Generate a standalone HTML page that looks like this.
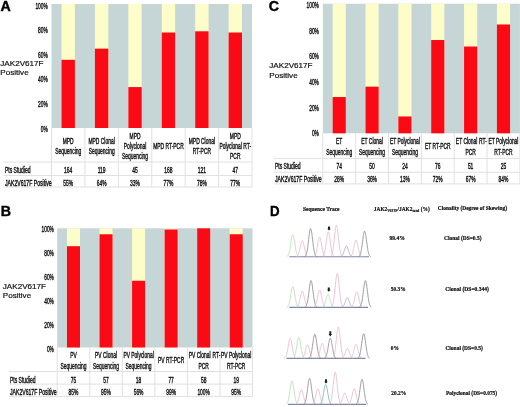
<!DOCTYPE html>
<html><head><meta charset="utf-8"><style>
html,body{margin:0;padding:0;background:#fff;}
body{width:520px;height:407px;overflow:hidden;}
svg{display:block;will-change:transform;}

</style></head><body>
<svg width="520" height="407" viewBox="0 0 520 407">
<rect width="520" height="407" fill="#fff"/>
<rect x="51.50" y="4.00" width="200.50" height="124.00" fill="#c6d5d6"/>
<rect x="61.52" y="4.00" width="13.37" height="124.00" fill="#fdfdc9"/>
<rect x="61.52" y="59.80" width="13.37" height="68.20" fill="#fb0a16"/>
<rect x="94.94" y="4.00" width="13.37" height="124.00" fill="#fdfdc9"/>
<rect x="94.94" y="48.64" width="13.37" height="79.36" fill="#fb0a16"/>
<rect x="128.36" y="4.00" width="13.37" height="124.00" fill="#fdfdc9"/>
<rect x="128.36" y="87.08" width="13.37" height="40.92" fill="#fb0a16"/>
<rect x="161.77" y="4.00" width="13.37" height="124.00" fill="#fdfdc9"/>
<rect x="161.77" y="32.52" width="13.37" height="95.48" fill="#fb0a16"/>
<rect x="195.19" y="4.00" width="13.37" height="124.00" fill="#fdfdc9"/>
<rect x="195.19" y="31.28" width="13.37" height="96.72" fill="#fb0a16"/>
<rect x="228.61" y="4.00" width="13.37" height="124.00" fill="#fdfdc9"/>
<rect x="228.61" y="32.52" width="13.37" height="95.48" fill="#fb0a16"/>
<text x="47.80" y="8.60" font-family="Liberation Sans" font-size="8.2" font-weight="normal" fill="#111" stroke="#111" stroke-width="0.4" text-anchor="end" textLength="12.37" lengthAdjust="spacingAndGlyphs">100%</text>
<text x="47.80" y="33.18" font-family="Liberation Sans" font-size="8.2" font-weight="normal" fill="#111" stroke="#111" stroke-width="0.4" text-anchor="end" textLength="9.68" lengthAdjust="spacingAndGlyphs">80%</text>
<text x="47.80" y="57.76" font-family="Liberation Sans" font-size="8.2" font-weight="normal" fill="#111" stroke="#111" stroke-width="0.4" text-anchor="end" textLength="9.68" lengthAdjust="spacingAndGlyphs">60%</text>
<text x="47.80" y="82.34" font-family="Liberation Sans" font-size="8.2" font-weight="normal" fill="#111" stroke="#111" stroke-width="0.4" text-anchor="end" textLength="9.68" lengthAdjust="spacingAndGlyphs">40%</text>
<text x="47.80" y="106.92" font-family="Liberation Sans" font-size="8.2" font-weight="normal" fill="#111" stroke="#111" stroke-width="0.4" text-anchor="end" textLength="9.68" lengthAdjust="spacingAndGlyphs">20%</text>
<text x="47.80" y="131.50" font-family="Liberation Sans" font-size="8.2" font-weight="normal" fill="#111" stroke="#111" stroke-width="0.4" text-anchor="end" textLength="6.99" lengthAdjust="spacingAndGlyphs">0%</text>
<text x="0.60" y="11.10" font-family="Liberation Sans" font-size="14.2" font-weight="bold" fill="#000" stroke="#000" stroke-width="0.4" text-anchor="start" textLength="10.26" lengthAdjust="spacingAndGlyphs">A</text>
<text x="0.30" y="65.60" font-family="Liberation Sans" font-size="8.1" font-weight="normal" fill="#111" stroke="#111" stroke-width="0.2" text-anchor="start" textLength="43.22" lengthAdjust="spacingAndGlyphs">JAK2V617F</text>
<text x="0.30" y="74.80" font-family="Liberation Sans" font-size="8.1" font-weight="normal" fill="#111" stroke="#111" stroke-width="0.2" text-anchor="start" textLength="28.36" lengthAdjust="spacingAndGlyphs">Positive</text>
<line x1="3.50" y1="162.00" x2="252.50" y2="162.00" stroke="#e0e0e0" stroke-width="1"/>
<line x1="3.50" y1="175.50" x2="252.50" y2="175.50" stroke="#e0e0e0" stroke-width="1"/>
<line x1="3.50" y1="187.00" x2="252.50" y2="187.00" stroke="#e0e0e0" stroke-width="1"/>
<line x1="51.50" y1="128.00" x2="51.50" y2="187.00" stroke="#e0e0e0" stroke-width="1"/>
<line x1="84.92" y1="128.00" x2="84.92" y2="187.00" stroke="#e0e0e0" stroke-width="1"/>
<line x1="118.33" y1="128.00" x2="118.33" y2="187.00" stroke="#e0e0e0" stroke-width="1"/>
<line x1="151.75" y1="128.00" x2="151.75" y2="187.00" stroke="#e0e0e0" stroke-width="1"/>
<line x1="185.17" y1="128.00" x2="185.17" y2="187.00" stroke="#e0e0e0" stroke-width="1"/>
<line x1="218.58" y1="128.00" x2="218.58" y2="187.00" stroke="#e0e0e0" stroke-width="1"/>
<line x1="252.00" y1="128.00" x2="252.00" y2="187.00" stroke="#e0e0e0" stroke-width="1"/>
<text x="68.21" y="143.70" font-family="Liberation Sans" font-size="8.2" font-weight="normal" fill="#111" stroke="#111" stroke-width="0.4" text-anchor="middle" textLength="10.93" lengthAdjust="spacingAndGlyphs">MPD</text>
<text x="68.21" y="154.30" font-family="Liberation Sans" font-size="8.2" font-weight="normal" fill="#111" stroke="#111" stroke-width="0.4" text-anchor="middle" textLength="25.99" lengthAdjust="spacingAndGlyphs">Sequencing</text>
<text x="101.62" y="143.70" font-family="Liberation Sans" font-size="8.2" font-weight="normal" fill="#111" stroke="#111" stroke-width="0.4" text-anchor="middle" textLength="26.25" lengthAdjust="spacingAndGlyphs">MPD Clonal</text>
<text x="101.62" y="154.30" font-family="Liberation Sans" font-size="8.2" font-weight="normal" fill="#111" stroke="#111" stroke-width="0.4" text-anchor="middle" textLength="25.99" lengthAdjust="spacingAndGlyphs">Sequencing</text>
<text x="135.04" y="138.80" font-family="Liberation Sans" font-size="8.2" font-weight="normal" fill="#111" stroke="#111" stroke-width="0.4" text-anchor="middle" textLength="10.93" lengthAdjust="spacingAndGlyphs">MPD</text>
<text x="135.04" y="149.00" font-family="Liberation Sans" font-size="8.2" font-weight="normal" fill="#111" stroke="#111" stroke-width="0.4" text-anchor="middle" textLength="22.43" lengthAdjust="spacingAndGlyphs">Polyclonal</text>
<text x="135.04" y="159.20" font-family="Liberation Sans" font-size="8.2" font-weight="normal" fill="#111" stroke="#111" stroke-width="0.4" text-anchor="middle" textLength="25.99" lengthAdjust="spacingAndGlyphs">Sequencing</text>
<text x="168.46" y="149.00" font-family="Liberation Sans" font-size="8.2" font-weight="normal" fill="#111" stroke="#111" stroke-width="0.4" text-anchor="middle" textLength="30.52" lengthAdjust="spacingAndGlyphs">MPD RT-PCR</text>
<text x="201.88" y="143.70" font-family="Liberation Sans" font-size="8.2" font-weight="normal" fill="#111" stroke="#111" stroke-width="0.4" text-anchor="middle" textLength="26.25" lengthAdjust="spacingAndGlyphs">MPD Clonal</text>
<text x="201.88" y="154.30" font-family="Liberation Sans" font-size="8.2" font-weight="normal" fill="#111" stroke="#111" stroke-width="0.4" text-anchor="middle" textLength="18.22" lengthAdjust="spacingAndGlyphs">RT-PCR</text>
<text x="235.29" y="138.80" font-family="Liberation Sans" font-size="8.2" font-weight="normal" fill="#111" stroke="#111" stroke-width="0.4" text-anchor="middle" textLength="10.93" lengthAdjust="spacingAndGlyphs">MPD</text>
<text x="235.29" y="149.00" font-family="Liberation Sans" font-size="8.2" font-weight="normal" fill="#111" stroke="#111" stroke-width="0.4" text-anchor="middle" textLength="31.63" lengthAdjust="spacingAndGlyphs">Polyclonal RT-</text>
<text x="235.29" y="159.20" font-family="Liberation Sans" font-size="8.2" font-weight="normal" fill="#111" stroke="#111" stroke-width="0.4" text-anchor="middle" textLength="10.39" lengthAdjust="spacingAndGlyphs">PCR</text>
<text x="5.00" y="172.60" font-family="Liberation Sans" font-size="8.2" font-weight="normal" fill="#111" stroke="#111" stroke-width="0.4" text-anchor="start" textLength="25.58" lengthAdjust="spacingAndGlyphs">Pts Studied</text>
<text x="5.00" y="185.80" font-family="Liberation Sans" font-size="8.2" font-weight="normal" fill="#111" stroke="#111" stroke-width="0.4" text-anchor="start" textLength="46.72" lengthAdjust="spacingAndGlyphs">JAK2V617F Positive</text>
<text x="68.21" y="172.60" font-family="Liberation Sans" font-size="8.2" font-weight="normal" fill="#111" stroke="#111" stroke-width="0.4" text-anchor="middle" textLength="8.21" lengthAdjust="spacingAndGlyphs">164</text>
<text x="68.21" y="185.80" font-family="Liberation Sans" font-size="8.2" font-weight="normal" fill="#111" stroke="#111" stroke-width="0.4" text-anchor="middle" textLength="9.85" lengthAdjust="spacingAndGlyphs">55%</text>
<text x="101.62" y="172.60" font-family="Liberation Sans" font-size="8.2" font-weight="normal" fill="#111" stroke="#111" stroke-width="0.4" text-anchor="middle" textLength="7.84" lengthAdjust="spacingAndGlyphs">119</text>
<text x="101.62" y="185.80" font-family="Liberation Sans" font-size="8.2" font-weight="normal" fill="#111" stroke="#111" stroke-width="0.4" text-anchor="middle" textLength="9.85" lengthAdjust="spacingAndGlyphs">64%</text>
<text x="135.04" y="172.60" font-family="Liberation Sans" font-size="8.2" font-weight="normal" fill="#111" stroke="#111" stroke-width="0.4" text-anchor="middle" textLength="5.47" lengthAdjust="spacingAndGlyphs">45</text>
<text x="135.04" y="185.80" font-family="Liberation Sans" font-size="8.2" font-weight="normal" fill="#111" stroke="#111" stroke-width="0.4" text-anchor="middle" textLength="9.85" lengthAdjust="spacingAndGlyphs">33%</text>
<text x="168.46" y="172.60" font-family="Liberation Sans" font-size="8.2" font-weight="normal" fill="#111" stroke="#111" stroke-width="0.4" text-anchor="middle" textLength="8.21" lengthAdjust="spacingAndGlyphs">168</text>
<text x="168.46" y="185.80" font-family="Liberation Sans" font-size="8.2" font-weight="normal" fill="#111" stroke="#111" stroke-width="0.4" text-anchor="middle" textLength="9.85" lengthAdjust="spacingAndGlyphs">77%</text>
<text x="201.88" y="172.60" font-family="Liberation Sans" font-size="8.2" font-weight="normal" fill="#111" stroke="#111" stroke-width="0.4" text-anchor="middle" textLength="8.21" lengthAdjust="spacingAndGlyphs">121</text>
<text x="201.88" y="185.80" font-family="Liberation Sans" font-size="8.2" font-weight="normal" fill="#111" stroke="#111" stroke-width="0.4" text-anchor="middle" textLength="9.85" lengthAdjust="spacingAndGlyphs">78%</text>
<text x="235.29" y="172.60" font-family="Liberation Sans" font-size="8.2" font-weight="normal" fill="#111" stroke="#111" stroke-width="0.4" text-anchor="middle" textLength="5.47" lengthAdjust="spacingAndGlyphs">47</text>
<text x="235.29" y="185.80" font-family="Liberation Sans" font-size="8.2" font-weight="normal" fill="#111" stroke="#111" stroke-width="0.4" text-anchor="middle" textLength="9.85" lengthAdjust="spacingAndGlyphs">77%</text>
<rect x="322.80" y="3.75" width="197.10" height="129.55" fill="#c6d5d6"/>
<rect x="332.66" y="3.75" width="13.14" height="129.55" fill="#fdfdc9"/>
<rect x="332.66" y="97.03" width="13.14" height="36.27" fill="#fb0a16"/>
<rect x="365.50" y="3.75" width="13.14" height="129.55" fill="#fdfdc9"/>
<rect x="365.50" y="86.66" width="13.14" height="46.64" fill="#fb0a16"/>
<rect x="398.36" y="3.75" width="13.14" height="129.55" fill="#fdfdc9"/>
<rect x="398.36" y="116.46" width="13.14" height="16.84" fill="#fb0a16"/>
<rect x="431.20" y="3.75" width="13.14" height="129.55" fill="#fdfdc9"/>
<rect x="431.20" y="40.02" width="13.14" height="93.28" fill="#fb0a16"/>
<rect x="464.06" y="3.75" width="13.14" height="129.55" fill="#fdfdc9"/>
<rect x="464.06" y="46.50" width="13.14" height="86.80" fill="#fb0a16"/>
<rect x="496.90" y="3.75" width="13.14" height="129.55" fill="#fdfdc9"/>
<rect x="496.90" y="24.48" width="13.14" height="108.82" fill="#fb0a16"/>
<text x="318.90" y="7.95" font-family="Liberation Sans" font-size="8.2" font-weight="normal" fill="#111" stroke="#111" stroke-width="0.4" text-anchor="end" textLength="12.37" lengthAdjust="spacingAndGlyphs">100%</text>
<text x="318.90" y="33.64" font-family="Liberation Sans" font-size="8.2" font-weight="normal" fill="#111" stroke="#111" stroke-width="0.4" text-anchor="end" textLength="9.68" lengthAdjust="spacingAndGlyphs">80%</text>
<text x="318.90" y="59.33" font-family="Liberation Sans" font-size="8.2" font-weight="normal" fill="#111" stroke="#111" stroke-width="0.4" text-anchor="end" textLength="9.68" lengthAdjust="spacingAndGlyphs">60%</text>
<text x="318.90" y="85.02" font-family="Liberation Sans" font-size="8.2" font-weight="normal" fill="#111" stroke="#111" stroke-width="0.4" text-anchor="end" textLength="9.68" lengthAdjust="spacingAndGlyphs">40%</text>
<text x="318.90" y="110.71" font-family="Liberation Sans" font-size="8.2" font-weight="normal" fill="#111" stroke="#111" stroke-width="0.4" text-anchor="end" textLength="9.68" lengthAdjust="spacingAndGlyphs">20%</text>
<text x="318.90" y="136.40" font-family="Liberation Sans" font-size="8.2" font-weight="normal" fill="#111" stroke="#111" stroke-width="0.4" text-anchor="end" textLength="6.99" lengthAdjust="spacingAndGlyphs">0%</text>
<text x="268.80" y="11.30" font-family="Liberation Sans" font-size="14.2" font-weight="bold" fill="#000" stroke="#000" stroke-width="0.4" text-anchor="start" textLength="10.26" lengthAdjust="spacingAndGlyphs">C</text>
<text x="269.30" y="68.00" font-family="Liberation Sans" font-size="8.1" font-weight="normal" fill="#111" stroke="#111" stroke-width="0.2" text-anchor="start" textLength="43.22" lengthAdjust="spacingAndGlyphs">JAK2V617F</text>
<text x="269.30" y="77.50" font-family="Liberation Sans" font-size="8.1" font-weight="normal" fill="#111" stroke="#111" stroke-width="0.2" text-anchor="start" textLength="28.36" lengthAdjust="spacingAndGlyphs">Positive</text>
<line x1="273.70" y1="158.40" x2="520.40" y2="158.40" stroke="#e0e0e0" stroke-width="1"/>
<line x1="273.70" y1="172.20" x2="520.40" y2="172.20" stroke="#e0e0e0" stroke-width="1"/>
<line x1="273.70" y1="183.90" x2="520.40" y2="183.90" stroke="#e0e0e0" stroke-width="1"/>
<line x1="322.80" y1="133.30" x2="322.80" y2="183.90" stroke="#e0e0e0" stroke-width="1"/>
<line x1="355.65" y1="133.30" x2="355.65" y2="183.90" stroke="#e0e0e0" stroke-width="1"/>
<line x1="388.50" y1="133.30" x2="388.50" y2="183.90" stroke="#e0e0e0" stroke-width="1"/>
<line x1="421.35" y1="133.30" x2="421.35" y2="183.90" stroke="#e0e0e0" stroke-width="1"/>
<line x1="454.20" y1="133.30" x2="454.20" y2="183.90" stroke="#e0e0e0" stroke-width="1"/>
<line x1="487.05" y1="133.30" x2="487.05" y2="183.90" stroke="#e0e0e0" stroke-width="1"/>
<line x1="519.90" y1="133.30" x2="519.90" y2="183.90" stroke="#e0e0e0" stroke-width="1"/>
<text x="339.23" y="143.95" font-family="Liberation Sans" font-size="8.2" font-weight="normal" fill="#111" stroke="#111" stroke-width="0.4" text-anchor="middle" textLength="6.29" lengthAdjust="spacingAndGlyphs">ET</text>
<text x="339.23" y="154.55" font-family="Liberation Sans" font-size="8.2" font-weight="normal" fill="#111" stroke="#111" stroke-width="0.4" text-anchor="middle" textLength="25.99" lengthAdjust="spacingAndGlyphs">Sequencing</text>
<text x="372.07" y="143.95" font-family="Liberation Sans" font-size="8.2" font-weight="normal" fill="#111" stroke="#111" stroke-width="0.4" text-anchor="middle" textLength="21.51" lengthAdjust="spacingAndGlyphs">ET Clonal</text>
<text x="372.07" y="154.55" font-family="Liberation Sans" font-size="8.2" font-weight="normal" fill="#111" stroke="#111" stroke-width="0.4" text-anchor="middle" textLength="25.99" lengthAdjust="spacingAndGlyphs">Sequencing</text>
<text x="404.93" y="143.95" font-family="Liberation Sans" font-size="8.2" font-weight="normal" fill="#111" stroke="#111" stroke-width="0.4" text-anchor="middle" textLength="29.99" lengthAdjust="spacingAndGlyphs">ET Polyclonal</text>
<text x="404.93" y="154.55" font-family="Liberation Sans" font-size="8.2" font-weight="normal" fill="#111" stroke="#111" stroke-width="0.4" text-anchor="middle" textLength="25.99" lengthAdjust="spacingAndGlyphs">Sequencing</text>
<text x="437.77" y="149.25" font-family="Liberation Sans" font-size="8.2" font-weight="normal" fill="#111" stroke="#111" stroke-width="0.4" text-anchor="middle" textLength="25.79" lengthAdjust="spacingAndGlyphs">ET RT-PCR</text>
<text x="466.62" y="143.95" font-family="Liberation Sans" font-size="8.2" font-weight="normal" fill="#111" stroke="#111" stroke-width="0.4" text-anchor="middle" textLength="21.51" lengthAdjust="spacingAndGlyphs">ET Clonal</text>
<text x="470.62" y="154.55" font-family="Liberation Sans" font-size="8.2" font-weight="normal" fill="#111" stroke="#111" stroke-width="0.4" text-anchor="middle" textLength="10.39" lengthAdjust="spacingAndGlyphs">PCR</text>
<text x="503.47" y="143.95" font-family="Liberation Sans" font-size="8.2" font-weight="normal" fill="#111" stroke="#111" stroke-width="0.4" text-anchor="middle" textLength="29.99" lengthAdjust="spacingAndGlyphs">ET Polyclonal</text>
<text x="503.47" y="154.55" font-family="Liberation Sans" font-size="8.2" font-weight="normal" fill="#111" stroke="#111" stroke-width="0.4" text-anchor="middle" textLength="18.22" lengthAdjust="spacingAndGlyphs">RT-PCR</text>
<text x="275.00" y="169.25" font-family="Liberation Sans" font-size="8.2" font-weight="normal" fill="#111" stroke="#111" stroke-width="0.4" text-anchor="start" textLength="25.58" lengthAdjust="spacingAndGlyphs">Pts Studied</text>
<text x="275.00" y="182.40" font-family="Liberation Sans" font-size="8.2" font-weight="normal" fill="#111" stroke="#111" stroke-width="0.4" text-anchor="start" textLength="46.72" lengthAdjust="spacingAndGlyphs">JAK2V617F Positive</text>
<text x="339.23" y="169.25" font-family="Liberation Sans" font-size="8.2" font-weight="normal" fill="#111" stroke="#111" stroke-width="0.4" text-anchor="middle" textLength="5.47" lengthAdjust="spacingAndGlyphs">74</text>
<text x="339.23" y="182.40" font-family="Liberation Sans" font-size="8.2" font-weight="normal" fill="#111" stroke="#111" stroke-width="0.4" text-anchor="middle" textLength="9.85" lengthAdjust="spacingAndGlyphs">28%</text>
<text x="372.07" y="169.25" font-family="Liberation Sans" font-size="8.2" font-weight="normal" fill="#111" stroke="#111" stroke-width="0.4" text-anchor="middle" textLength="5.47" lengthAdjust="spacingAndGlyphs">50</text>
<text x="372.07" y="182.40" font-family="Liberation Sans" font-size="8.2" font-weight="normal" fill="#111" stroke="#111" stroke-width="0.4" text-anchor="middle" textLength="9.85" lengthAdjust="spacingAndGlyphs">36%</text>
<text x="404.93" y="169.25" font-family="Liberation Sans" font-size="8.2" font-weight="normal" fill="#111" stroke="#111" stroke-width="0.4" text-anchor="middle" textLength="5.47" lengthAdjust="spacingAndGlyphs">24</text>
<text x="404.93" y="182.40" font-family="Liberation Sans" font-size="8.2" font-weight="normal" fill="#111" stroke="#111" stroke-width="0.4" text-anchor="middle" textLength="9.85" lengthAdjust="spacingAndGlyphs">13%</text>
<text x="437.77" y="169.25" font-family="Liberation Sans" font-size="8.2" font-weight="normal" fill="#111" stroke="#111" stroke-width="0.4" text-anchor="middle" textLength="5.47" lengthAdjust="spacingAndGlyphs">76</text>
<text x="437.77" y="182.40" font-family="Liberation Sans" font-size="8.2" font-weight="normal" fill="#111" stroke="#111" stroke-width="0.4" text-anchor="middle" textLength="9.85" lengthAdjust="spacingAndGlyphs">72%</text>
<text x="470.62" y="169.25" font-family="Liberation Sans" font-size="8.2" font-weight="normal" fill="#111" stroke="#111" stroke-width="0.4" text-anchor="middle" textLength="5.47" lengthAdjust="spacingAndGlyphs">51</text>
<text x="470.62" y="182.40" font-family="Liberation Sans" font-size="8.2" font-weight="normal" fill="#111" stroke="#111" stroke-width="0.4" text-anchor="middle" textLength="9.85" lengthAdjust="spacingAndGlyphs">67%</text>
<text x="503.47" y="169.25" font-family="Liberation Sans" font-size="8.2" font-weight="normal" fill="#111" stroke="#111" stroke-width="0.4" text-anchor="middle" textLength="5.47" lengthAdjust="spacingAndGlyphs">25</text>
<text x="503.47" y="182.40" font-family="Liberation Sans" font-size="8.2" font-weight="normal" fill="#111" stroke="#111" stroke-width="0.4" text-anchor="middle" textLength="9.85" lengthAdjust="spacingAndGlyphs">84%</text>
<rect x="57.20" y="228.30" width="195.30" height="119.20" fill="#c6d5d6"/>
<rect x="66.97" y="228.30" width="13.02" height="119.20" fill="#fdfdc9"/>
<rect x="66.97" y="246.18" width="13.02" height="101.32" fill="#fb0a16"/>
<rect x="99.52" y="228.30" width="13.02" height="119.20" fill="#fdfdc9"/>
<rect x="99.52" y="234.26" width="13.02" height="113.24" fill="#fb0a16"/>
<rect x="132.07" y="228.30" width="13.02" height="119.20" fill="#fdfdc9"/>
<rect x="132.07" y="280.75" width="13.02" height="66.75" fill="#fb0a16"/>
<rect x="164.62" y="228.30" width="13.02" height="119.20" fill="#fdfdc9"/>
<rect x="164.62" y="229.49" width="13.02" height="118.01" fill="#fb0a16"/>
<rect x="197.17" y="228.30" width="13.02" height="119.20" fill="#fdfdc9"/>
<rect x="197.17" y="228.30" width="13.02" height="119.20" fill="#fb0a16"/>
<rect x="229.72" y="228.30" width="13.02" height="119.20" fill="#fdfdc9"/>
<rect x="229.72" y="234.26" width="13.02" height="113.24" fill="#fb0a16"/>
<text x="53.90" y="232.30" font-family="Liberation Sans" font-size="8.2" font-weight="normal" fill="#111" stroke="#111" stroke-width="0.4" text-anchor="end" textLength="12.37" lengthAdjust="spacingAndGlyphs">100%</text>
<text x="53.90" y="256.24" font-family="Liberation Sans" font-size="8.2" font-weight="normal" fill="#111" stroke="#111" stroke-width="0.4" text-anchor="end" textLength="9.68" lengthAdjust="spacingAndGlyphs">80%</text>
<text x="53.90" y="280.18" font-family="Liberation Sans" font-size="8.2" font-weight="normal" fill="#111" stroke="#111" stroke-width="0.4" text-anchor="end" textLength="9.68" lengthAdjust="spacingAndGlyphs">60%</text>
<text x="53.90" y="304.12" font-family="Liberation Sans" font-size="8.2" font-weight="normal" fill="#111" stroke="#111" stroke-width="0.4" text-anchor="end" textLength="9.68" lengthAdjust="spacingAndGlyphs">40%</text>
<text x="53.90" y="328.06" font-family="Liberation Sans" font-size="8.2" font-weight="normal" fill="#111" stroke="#111" stroke-width="0.4" text-anchor="end" textLength="9.68" lengthAdjust="spacingAndGlyphs">20%</text>
<text x="53.90" y="352.00" font-family="Liberation Sans" font-size="8.2" font-weight="normal" fill="#111" stroke="#111" stroke-width="0.4" text-anchor="end" textLength="6.99" lengthAdjust="spacingAndGlyphs">0%</text>
<text x="0.80" y="216.30" font-family="Liberation Sans" font-size="14.2" font-weight="bold" fill="#000" stroke="#000" stroke-width="0.4" text-anchor="start" textLength="10.26" lengthAdjust="spacingAndGlyphs">B</text>
<text x="2.80" y="288.60" font-family="Liberation Sans" font-size="8.1" font-weight="normal" fill="#111" stroke="#111" stroke-width="0.2" text-anchor="start" textLength="43.22" lengthAdjust="spacingAndGlyphs">JAK2V617F</text>
<text x="2.80" y="297.80" font-family="Liberation Sans" font-size="8.1" font-weight="normal" fill="#111" stroke="#111" stroke-width="0.2" text-anchor="start" textLength="28.36" lengthAdjust="spacingAndGlyphs">Positive</text>
<line x1="9.00" y1="371.50" x2="253.00" y2="371.50" stroke="#e0e0e0" stroke-width="1"/>
<line x1="9.00" y1="384.10" x2="253.00" y2="384.10" stroke="#e0e0e0" stroke-width="1"/>
<line x1="9.00" y1="396.60" x2="253.00" y2="396.60" stroke="#e0e0e0" stroke-width="1"/>
<line x1="57.20" y1="347.50" x2="57.20" y2="396.60" stroke="#e0e0e0" stroke-width="1"/>
<line x1="89.75" y1="347.50" x2="89.75" y2="396.60" stroke="#e0e0e0" stroke-width="1"/>
<line x1="122.30" y1="347.50" x2="122.30" y2="396.60" stroke="#e0e0e0" stroke-width="1"/>
<line x1="154.85" y1="347.50" x2="154.85" y2="396.60" stroke="#e0e0e0" stroke-width="1"/>
<line x1="187.40" y1="347.50" x2="187.40" y2="396.60" stroke="#e0e0e0" stroke-width="1"/>
<line x1="219.95" y1="347.50" x2="219.95" y2="396.60" stroke="#e0e0e0" stroke-width="1"/>
<line x1="252.50" y1="347.50" x2="252.50" y2="396.60" stroke="#e0e0e0" stroke-width="1"/>
<text x="73.48" y="358.05" font-family="Liberation Sans" font-size="8.2" font-weight="normal" fill="#111" stroke="#111" stroke-width="0.4" text-anchor="middle" textLength="6.56" lengthAdjust="spacingAndGlyphs">PV</text>
<text x="73.48" y="368.65" font-family="Liberation Sans" font-size="8.2" font-weight="normal" fill="#111" stroke="#111" stroke-width="0.4" text-anchor="middle" textLength="25.99" lengthAdjust="spacingAndGlyphs">Sequencing</text>
<text x="106.03" y="358.05" font-family="Liberation Sans" font-size="8.2" font-weight="normal" fill="#111" stroke="#111" stroke-width="0.4" text-anchor="middle" textLength="21.88" lengthAdjust="spacingAndGlyphs">PV Clonal</text>
<text x="106.03" y="368.65" font-family="Liberation Sans" font-size="8.2" font-weight="normal" fill="#111" stroke="#111" stroke-width="0.4" text-anchor="middle" textLength="25.99" lengthAdjust="spacingAndGlyphs">Sequencing</text>
<text x="138.58" y="358.05" font-family="Liberation Sans" font-size="8.2" font-weight="normal" fill="#111" stroke="#111" stroke-width="0.4" text-anchor="middle" textLength="30.36" lengthAdjust="spacingAndGlyphs">PV Polyclonal</text>
<text x="138.58" y="368.65" font-family="Liberation Sans" font-size="8.2" font-weight="normal" fill="#111" stroke="#111" stroke-width="0.4" text-anchor="middle" textLength="25.99" lengthAdjust="spacingAndGlyphs">Sequencing</text>
<text x="171.12" y="363.35" font-family="Liberation Sans" font-size="8.2" font-weight="normal" fill="#111" stroke="#111" stroke-width="0.4" text-anchor="middle" textLength="26.15" lengthAdjust="spacingAndGlyphs">PV RT-PCR</text>
<text x="199.68" y="358.05" font-family="Liberation Sans" font-size="8.2" font-weight="normal" fill="#111" stroke="#111" stroke-width="0.4" text-anchor="middle" textLength="21.88" lengthAdjust="spacingAndGlyphs">PV Clonal</text>
<text x="203.68" y="368.65" font-family="Liberation Sans" font-size="8.2" font-weight="normal" fill="#111" stroke="#111" stroke-width="0.4" text-anchor="middle" textLength="10.39" lengthAdjust="spacingAndGlyphs">PCR</text>
<text x="236.23" y="358.05" font-family="Liberation Sans" font-size="8.2" font-weight="normal" fill="#111" stroke="#111" stroke-width="0.4" text-anchor="middle" textLength="30.36" lengthAdjust="spacingAndGlyphs">PV Polyclonal</text>
<text x="236.23" y="368.65" font-family="Liberation Sans" font-size="8.2" font-weight="normal" fill="#111" stroke="#111" stroke-width="0.4" text-anchor="middle" textLength="18.22" lengthAdjust="spacingAndGlyphs">RT-PCR</text>
<text x="10.00" y="382.50" font-family="Liberation Sans" font-size="8.2" font-weight="normal" fill="#111" stroke="#111" stroke-width="0.4" text-anchor="start" textLength="25.58" lengthAdjust="spacingAndGlyphs">Pts Studied</text>
<text x="10.00" y="395.10" font-family="Liberation Sans" font-size="8.2" font-weight="normal" fill="#111" stroke="#111" stroke-width="0.4" text-anchor="start" textLength="46.72" lengthAdjust="spacingAndGlyphs">JAK2V617F Positive</text>
<text x="73.48" y="382.50" font-family="Liberation Sans" font-size="8.2" font-weight="normal" fill="#111" stroke="#111" stroke-width="0.4" text-anchor="middle" textLength="5.47" lengthAdjust="spacingAndGlyphs">75</text>
<text x="73.48" y="395.10" font-family="Liberation Sans" font-size="8.2" font-weight="normal" fill="#111" stroke="#111" stroke-width="0.4" text-anchor="middle" textLength="9.85" lengthAdjust="spacingAndGlyphs">85%</text>
<text x="106.03" y="382.50" font-family="Liberation Sans" font-size="8.2" font-weight="normal" fill="#111" stroke="#111" stroke-width="0.4" text-anchor="middle" textLength="5.47" lengthAdjust="spacingAndGlyphs">57</text>
<text x="106.03" y="395.10" font-family="Liberation Sans" font-size="8.2" font-weight="normal" fill="#111" stroke="#111" stroke-width="0.4" text-anchor="middle" textLength="9.85" lengthAdjust="spacingAndGlyphs">95%</text>
<text x="138.58" y="382.50" font-family="Liberation Sans" font-size="8.2" font-weight="normal" fill="#111" stroke="#111" stroke-width="0.4" text-anchor="middle" textLength="5.47" lengthAdjust="spacingAndGlyphs">18</text>
<text x="138.58" y="395.10" font-family="Liberation Sans" font-size="8.2" font-weight="normal" fill="#111" stroke="#111" stroke-width="0.4" text-anchor="middle" textLength="9.85" lengthAdjust="spacingAndGlyphs">56%</text>
<text x="171.12" y="382.50" font-family="Liberation Sans" font-size="8.2" font-weight="normal" fill="#111" stroke="#111" stroke-width="0.4" text-anchor="middle" textLength="5.47" lengthAdjust="spacingAndGlyphs">77</text>
<text x="171.12" y="395.10" font-family="Liberation Sans" font-size="8.2" font-weight="normal" fill="#111" stroke="#111" stroke-width="0.4" text-anchor="middle" textLength="9.85" lengthAdjust="spacingAndGlyphs">99%</text>
<text x="203.68" y="382.50" font-family="Liberation Sans" font-size="8.2" font-weight="normal" fill="#111" stroke="#111" stroke-width="0.4" text-anchor="middle" textLength="5.47" lengthAdjust="spacingAndGlyphs">58</text>
<text x="203.68" y="395.10" font-family="Liberation Sans" font-size="8.2" font-weight="normal" fill="#111" stroke="#111" stroke-width="0.4" text-anchor="middle" textLength="12.58" lengthAdjust="spacingAndGlyphs">100%</text>
<text x="236.23" y="382.50" font-family="Liberation Sans" font-size="8.2" font-weight="normal" fill="#111" stroke="#111" stroke-width="0.4" text-anchor="middle" textLength="5.47" lengthAdjust="spacingAndGlyphs">19</text>
<text x="236.23" y="395.10" font-family="Liberation Sans" font-size="8.2" font-weight="normal" fill="#111" stroke="#111" stroke-width="0.4" text-anchor="middle" textLength="9.85" lengthAdjust="spacingAndGlyphs">95%</text>
<text x="483.00" y="143.95" font-family="Liberation Sans" font-size="8.2" font-weight="normal" fill="#111" stroke="#111" stroke-width="0.4" text-anchor="middle" textLength="7.84" lengthAdjust="spacingAndGlyphs">RT-</text>
<text x="216.50" y="358.05" font-family="Liberation Sans" font-size="8.2" font-weight="normal" fill="#111" stroke="#111" stroke-width="0.4" text-anchor="middle" textLength="7.84" lengthAdjust="spacingAndGlyphs">RT-</text>
<text x="270.00" y="215.60" font-family="Liberation Sans" font-size="14" font-weight="bold" fill="#000" stroke="#000" stroke-width="0.4" text-anchor="start" textLength="9.60" lengthAdjust="spacingAndGlyphs">D</text>
<text x="303.00" y="210.68" font-family="Liberation Serif" font-weight="bold" font-size="6" fill="#111" stroke="#111" stroke-width="0.2" textLength="36.50" lengthAdjust="spacingAndGlyphs">Sequence Trace</text>
<text x="373.8" y="210.6" font-family="Liberation Serif" font-weight="bold" font-size="6" fill="#111" stroke="#111" stroke-width="0.2" textLength="55.9" lengthAdjust="spacingAndGlyphs">JAK2<tspan font-size="4" dy="1">V617F</tspan><tspan dy="-1">/JAK2</tspan><tspan font-size="4" dy="1">total</tspan><tspan dy="-1"> (%)</tspan></text>
<text x="437.80" y="210.28" font-family="Liberation Serif" font-weight="bold" font-size="6" fill="#111" stroke="#111" stroke-width="0.2" textLength="69.20" lengthAdjust="spacingAndGlyphs">Clonality (Degree of Skewing)</text>
<text x="389.40" y="239.75" font-family="Liberation Serif" font-weight="bold" font-size="5.6" fill="#111" stroke="#111" stroke-width="0.2" textLength="15.40" lengthAdjust="spacingAndGlyphs">99.4%</text>
<text x="444.00" y="239.75" font-family="Liberation Serif" font-weight="bold" font-size="5.6" fill="#111" stroke="#111" stroke-width="0.2" textLength="37.50" lengthAdjust="spacingAndGlyphs">Clonal (DS=0.5)</text>
<text x="390.80" y="291.45" font-family="Liberation Serif" font-weight="bold" font-size="5.6" fill="#111" stroke="#111" stroke-width="0.2" textLength="14.80" lengthAdjust="spacingAndGlyphs">50.3%</text>
<text x="445.20" y="291.45" font-family="Liberation Serif" font-weight="bold" font-size="5.6" fill="#111" stroke="#111" stroke-width="0.2" textLength="43.80" lengthAdjust="spacingAndGlyphs">Clonal (DS=0.344)</text>
<text x="390.80" y="350.15" font-family="Liberation Serif" font-weight="bold" font-size="5.6" fill="#111" stroke="#111" stroke-width="0.2" textLength="8.00" lengthAdjust="spacingAndGlyphs">0%</text>
<text x="445.40" y="350.15" font-family="Liberation Serif" font-weight="bold" font-size="5.6" fill="#111" stroke="#111" stroke-width="0.2" textLength="37.50" lengthAdjust="spacingAndGlyphs">Clonal (DS=0.5)</text>
<text x="391.30" y="395.05" font-family="Liberation Serif" font-weight="bold" font-size="5.6" fill="#111" stroke="#111" stroke-width="0.2" textLength="14.80" lengthAdjust="spacingAndGlyphs">20.2%</text>
<text x="446.00" y="395.05" font-family="Liberation Serif" font-weight="bold" font-size="5.6" fill="#111" stroke="#111" stroke-width="0.2" textLength="51.10" lengthAdjust="spacingAndGlyphs">Polyclonal (DS=0.075)</text>
<line x1="289.3" y1="256.8" x2="369" y2="256.8" stroke="#7a88a0" stroke-width="1.1"/>
<polyline points="286.80,256.55 287.00,256.47 287.20,256.36 287.40,256.22 287.60,256.05 287.80,255.83 288.00,255.56 288.20,255.23 288.40,254.83 288.60,254.36 288.80,253.81 289.00,253.17 289.20,252.43 289.40,251.59 289.60,250.66 289.80,249.63 290.00,248.51 290.20,247.31 290.40,246.04 290.60,244.73 290.80,243.40 291.00,242.06 291.20,240.75 291.40,239.50 291.60,238.34 291.80,237.30 292.00,236.40 292.20,235.67 292.40,235.14 292.60,234.81 292.80,234.70 293.00,234.81 293.20,235.14 293.40,235.67 293.60,236.40 293.80,237.30 294.00,238.34 294.20,239.50 294.40,240.75 294.60,242.06 294.80,243.40 295.00,244.73 295.20,246.04 295.40,247.31 295.60,248.51 295.80,249.63 296.00,250.66 296.20,251.59 296.40,252.43 296.60,253.17 296.80,253.81 297.00,254.36 297.20,254.83 297.40,255.23 297.60,255.56 297.80,255.83 298.00,256.05 298.20,256.22 298.40,256.36 298.60,256.47 298.80,256.55" fill="none" stroke="#b2dab2" stroke-width="0.8"/>
<polyline points="296.30,256.62 296.50,256.56 296.70,256.48 296.90,256.38 297.10,256.26 297.30,256.10 297.50,255.90 297.70,255.66 297.90,255.38 298.10,255.04 298.30,254.63 298.50,254.17 298.70,253.63 298.90,253.03 299.10,252.35 299.30,251.61 299.50,250.80 299.70,249.93 299.90,249.01 300.10,248.06 300.30,247.10 300.50,246.13 300.70,245.18 300.90,244.28 301.10,243.44 301.30,242.68 301.50,242.03 301.70,241.50 301.90,241.12 302.10,240.88 302.30,240.80 302.50,240.88 302.70,241.12 302.90,241.50 303.10,242.03 303.30,242.68 303.50,243.44 303.70,244.28 303.90,245.18 304.10,246.13 304.30,247.10 304.50,248.06 304.70,249.01 304.90,249.93 305.10,250.80 305.30,251.61 305.50,252.35 305.70,253.03 305.90,253.63 306.10,254.17 306.30,254.63 306.50,255.04 306.70,255.38 306.90,255.66 307.10,255.90 307.30,256.10 307.50,256.26 307.70,256.38 307.90,256.48 308.10,256.56 308.30,256.62" fill="none" stroke="#eab2cb" stroke-width="0.8"/>
<polyline points="304.60,256.49 304.80,256.38 305.00,256.24 305.20,256.06 305.40,255.84 305.60,255.56 305.80,255.22 306.00,254.80 306.20,254.29 306.40,253.69 306.60,252.98 306.80,252.16 307.00,251.22 307.20,250.15 307.40,248.96 307.60,247.64 307.80,246.22 308.00,244.69 308.20,243.07 308.40,241.40 308.60,239.70 308.80,237.99 309.00,236.32 309.20,234.73 309.40,233.25 309.60,231.91 309.80,230.77 310.00,229.84 310.20,229.16 310.40,228.74 310.60,228.60 310.80,228.74 311.00,229.16 311.20,229.84 311.40,230.77 311.60,231.91 311.80,233.25 312.00,234.73 312.20,236.32 312.40,237.99 312.60,239.70 312.80,241.40 313.00,243.07 313.20,244.69 313.40,246.22 313.60,247.64 313.80,248.96 314.00,250.15 314.20,251.22 314.40,252.16 314.60,252.98 314.80,253.69 315.00,254.29 315.20,254.80 315.40,255.22 315.60,255.56 315.80,255.84 316.00,256.06 316.20,256.24 316.40,256.38 316.60,256.49" fill="none" stroke="#858585" stroke-width="0.8"/>
<polyline points="313.60,256.58 313.80,256.51 314.00,256.41 314.20,256.29 314.40,256.14 314.60,255.94 314.80,255.71 315.00,255.42 315.20,255.07 315.40,254.65 315.60,254.16 315.80,253.59 316.00,252.94 316.20,252.20 316.40,251.38 316.60,250.47 316.80,249.48 317.00,248.42 317.20,247.31 317.40,246.15 317.60,244.97 317.80,243.79 318.00,242.64 318.20,241.54 318.40,240.51 318.60,239.59 318.80,238.80 319.00,238.16 319.20,237.69 319.40,237.40 319.60,237.30 319.80,237.40 320.00,237.69 320.20,238.16 320.40,238.80 320.60,239.59 320.80,240.51 321.00,241.54 321.20,242.64 321.40,243.79 321.60,244.97 321.80,246.15 322.00,247.31 322.20,248.42 322.40,249.48 322.60,250.47 322.80,251.38 323.00,252.20 323.20,252.94 323.40,253.59 323.60,254.16 323.80,254.65 324.00,255.07 324.20,255.42 324.40,255.71 324.60,255.94 324.80,256.14 325.00,256.29 325.20,256.41 325.40,256.51 325.60,256.58" fill="none" stroke="#eab2cb" stroke-width="0.8"/>
<polyline points="322.30,256.52 322.50,256.43 322.70,256.31 322.90,256.15 323.10,255.96 323.30,255.71 323.50,255.41 323.70,255.04 323.90,254.59 324.10,254.07 324.30,253.44 324.50,252.72 324.70,251.89 324.90,250.95 325.10,249.90 325.30,248.75 325.50,247.49 325.70,246.15 325.90,244.73 326.10,243.26 326.30,241.76 326.50,240.26 326.70,238.79 326.90,237.39 327.10,236.09 327.30,234.91 327.50,233.91 327.70,233.09 327.90,232.49 328.10,232.12 328.30,232.00 328.50,232.12 328.70,232.49 328.90,233.09 329.10,233.91 329.30,234.91 329.50,236.09 329.70,237.39 329.90,238.79 330.10,240.26 330.30,241.76 330.50,243.26 330.70,244.73 330.90,246.15 331.10,247.49 331.30,248.75 331.50,249.90 331.70,250.95 331.90,251.89 332.10,252.72 332.30,253.44 332.50,254.07 332.70,254.59 332.90,255.04 333.10,255.41 333.30,255.71 333.50,255.96 333.70,256.15 333.90,256.31 334.10,256.43 334.30,256.52" fill="none" stroke="#eab2cb" stroke-width="0.8"/>
<polyline points="330.40,256.45 330.60,256.33 330.80,256.17 331.00,255.97 331.20,255.72 331.40,255.41 331.60,255.03 331.80,254.56 332.00,253.99 332.20,253.32 332.40,252.52 332.60,251.60 332.80,250.55 333.00,249.35 333.20,248.01 333.40,246.54 333.60,244.94 333.80,243.23 334.00,241.42 334.20,239.54 334.40,237.63 334.60,235.72 334.80,233.85 335.00,232.07 335.20,230.41 335.40,228.91 335.60,227.63 335.80,226.59 336.00,225.83 336.20,225.36 336.40,225.20 336.60,225.36 336.80,225.83 337.00,226.59 337.20,227.63 337.40,228.91 337.60,230.41 337.80,232.07 338.00,233.85 338.20,235.72 338.40,237.63 338.60,239.54 338.80,241.42 339.00,243.23 339.20,244.94 339.40,246.54 339.60,248.01 339.80,249.35 340.00,250.55 340.20,251.60 340.40,252.52 340.60,253.32 340.80,253.99 341.00,254.56 341.20,255.03 341.40,255.41 341.60,255.72 341.80,255.97 342.00,256.17 342.20,256.33 342.40,256.45" fill="none" stroke="#eab2cb" stroke-width="0.8"/>
<polyline points="340.40,256.68 340.60,256.64 340.80,256.59 341.00,256.52 341.20,256.43 341.40,256.33 341.60,256.19 341.80,256.03 342.00,255.84 342.20,255.61 342.40,255.34 342.60,255.02 342.80,254.66 343.00,254.25 343.20,253.80 343.40,253.29 343.60,252.75 343.80,252.16 344.00,251.54 344.20,250.90 344.40,250.25 344.60,249.60 344.80,248.96 345.00,248.35 345.20,247.78 345.40,247.27 345.60,246.83 345.80,246.48 346.00,246.21 346.20,246.05 346.40,246.00 346.60,246.05 346.80,246.21 347.00,246.48 347.20,246.83 347.40,247.27 347.60,247.78 347.80,248.35 348.00,248.96 348.20,249.60 348.40,250.25 348.60,250.90 348.80,251.54 349.00,252.16 349.20,252.75 349.40,253.29 349.60,253.80 349.80,254.25 350.00,254.66 350.20,255.02 350.40,255.34 350.60,255.61 350.80,255.84 351.00,256.03 351.20,256.19 351.40,256.33 351.60,256.43 351.80,256.52 352.00,256.59 352.20,256.64 352.40,256.68" fill="none" stroke="#a4a4cc" stroke-width="0.8"/>
<polyline points="350.00,256.61 350.20,256.55 350.40,256.47 350.60,256.36 350.80,256.23 351.00,256.06 351.20,255.86 351.40,255.61 351.60,255.31 351.80,254.95 352.00,254.53 352.20,254.04 352.40,253.48 352.60,252.84 352.80,252.13 353.00,251.35 353.20,250.49 353.40,249.58 353.60,248.62 353.80,247.63 354.00,246.61 354.20,245.59 354.40,244.60 354.60,243.65 354.80,242.77 355.00,241.97 355.20,241.29 355.40,240.74 355.60,240.33 355.80,240.08 356.00,240.00 356.20,240.08 356.40,240.33 356.60,240.74 356.80,241.29 357.00,241.97 357.20,242.77 357.40,243.65 357.60,244.60 357.80,245.59 358.00,246.61 358.20,247.63 358.40,248.62 358.60,249.58 358.80,250.49 359.00,251.35 359.20,252.13 359.40,252.84 359.60,253.48 359.80,254.04 360.00,254.53 360.20,254.95 360.40,255.31 360.60,255.61 360.80,255.86 361.00,256.06 361.20,256.23 361.40,256.36 361.60,256.47 361.80,256.55 362.00,256.61" fill="none" stroke="#eab2cb" stroke-width="0.8"/>
<polyline points="358.60,256.52 358.80,256.42 359.00,256.29 359.20,256.13 359.40,255.93 359.60,255.68 359.80,255.36 360.00,254.98 360.20,254.52 360.40,253.98 360.60,253.34 360.80,252.59 361.00,251.73 361.20,250.76 361.40,249.68 361.60,248.49 361.80,247.19 362.00,245.80 362.20,244.34 362.40,242.82 362.60,241.27 362.80,239.73 363.00,238.21 363.20,236.76 363.40,235.42 363.60,234.21 363.80,233.17 364.00,232.33 364.20,231.71 364.40,231.33 364.60,231.20 364.80,231.33 365.00,231.71 365.20,232.33 365.40,233.17 365.60,234.21 365.80,235.42 366.00,236.76 366.20,238.21 366.40,239.73 366.60,241.27 366.80,242.82 367.00,244.34 367.20,245.80 367.40,247.19 367.60,248.49 367.80,249.68 368.00,250.76 368.20,251.73 368.40,252.59 368.60,253.34 368.80,253.98 369.00,254.52 369.20,254.98 369.40,255.36 369.60,255.68 369.80,255.93 370.00,256.13 370.20,256.29 370.40,256.42 370.60,256.52" fill="none" stroke="#858585" stroke-width="0.8"/>
<path d="M328.00,226.60 h2 v2.20 h0.8 l-1.8,1.80 l-1.8,-1.80 h0.8 z" fill="#222"/>
<line x1="289.3" y1="307.4" x2="368" y2="307.4" stroke="#7a88a0" stroke-width="1.1"/>
<polyline points="286.80,307.17 287.00,307.09 287.20,306.99 287.40,306.86 287.60,306.69 287.80,306.49 288.00,306.23 288.20,305.92 288.40,305.55 288.60,305.11 288.80,304.59 289.00,303.98 289.20,303.28 289.40,302.50 289.60,301.62 289.80,300.65 290.00,299.59 290.20,298.47 290.40,297.28 290.60,296.04 290.80,294.78 291.00,293.53 291.20,292.30 291.40,291.12 291.60,290.03 291.80,289.04 292.00,288.20 292.20,287.52 292.40,287.01 292.60,286.70 292.80,286.60 293.00,286.70 293.20,287.01 293.40,287.52 293.60,288.20 293.80,289.04 294.00,290.03 294.20,291.12 294.40,292.30 294.60,293.53 294.80,294.78 295.00,296.04 295.20,297.28 295.40,298.47 295.60,299.59 295.80,300.65 296.00,301.62 296.20,302.50 296.40,303.28 296.60,303.98 296.80,304.59 297.00,305.11 297.20,305.55 297.40,305.92 297.60,306.23 297.80,306.49 298.00,306.69 298.20,306.86 298.40,306.99 298.60,307.09 298.80,307.17" fill="none" stroke="#b2dab2" stroke-width="0.8"/>
<polyline points="296.30,307.22 296.50,307.16 296.70,307.07 296.90,306.97 297.10,306.84 297.30,306.68 297.50,306.48 297.70,306.24 297.90,305.94 298.10,305.59 298.30,305.18 298.50,304.70 298.70,304.15 298.90,303.53 299.10,302.84 299.30,302.08 299.50,301.24 299.70,300.36 299.90,299.42 300.10,298.44 300.30,297.45 300.50,296.46 300.70,295.49 300.90,294.56 301.10,293.70 301.30,292.93 301.50,292.26 301.70,291.72 301.90,291.32 302.10,291.08 302.30,291.00 302.50,291.08 302.70,291.32 302.90,291.72 303.10,292.26 303.30,292.93 303.50,293.70 303.70,294.56 303.90,295.49 304.10,296.46 304.30,297.45 304.50,298.44 304.70,299.42 304.90,300.36 305.10,301.24 305.30,302.08 305.50,302.84 305.70,303.53 305.90,304.15 306.10,304.70 306.30,305.18 306.50,305.59 306.70,305.94 306.90,306.24 307.10,306.48 307.30,306.68 307.50,306.84 307.70,306.97 307.90,307.07 308.10,307.16 308.30,307.22" fill="none" stroke="#eab2cb" stroke-width="0.8"/>
<polyline points="305.00,307.10 305.20,307.00 305.40,306.87 305.60,306.70 305.80,306.49 306.00,306.22 306.20,305.90 306.40,305.50 306.60,305.02 306.80,304.45 307.00,303.77 307.20,302.99 307.40,302.10 307.60,301.08 307.80,299.95 308.00,298.70 308.20,297.34 308.40,295.89 308.60,294.36 308.80,292.77 309.00,291.14 309.20,289.53 309.40,287.94 309.60,286.42 309.80,285.01 310.00,283.75 310.20,282.66 310.40,281.78 310.60,281.13 310.80,280.73 311.00,280.60 311.20,280.73 311.40,281.13 311.60,281.78 311.80,282.66 312.00,283.75 312.20,285.01 312.40,286.42 312.60,287.94 312.80,289.53 313.00,291.14 313.20,292.77 313.40,294.36 313.60,295.89 313.80,297.34 314.00,298.70 314.20,299.95 314.40,301.08 314.60,302.10 314.80,302.99 315.00,303.77 315.20,304.45 315.40,305.02 315.60,305.50 315.80,305.90 316.00,306.22 316.20,306.49 316.40,306.70 316.60,306.87 316.80,307.00 317.00,307.10" fill="none" stroke="#858585" stroke-width="0.8"/>
<polyline points="313.60,307.21 313.80,307.14 314.00,307.05 314.20,306.95 314.40,306.81 314.60,306.64 314.80,306.42 315.00,306.16 315.20,305.85 315.40,305.48 315.60,305.05 315.80,304.54 316.00,303.96 316.20,303.30 316.40,302.56 316.60,301.75 316.80,300.87 317.00,299.93 317.20,298.93 317.40,297.90 317.60,296.85 317.80,295.79 318.00,294.77 318.20,293.78 318.40,292.87 318.60,292.04 318.80,291.34 319.00,290.77 319.20,290.34 319.40,290.09 319.60,290.00 319.80,290.09 320.00,290.34 320.20,290.77 320.40,291.34 320.60,292.04 320.80,292.87 321.00,293.78 321.20,294.77 321.40,295.79 321.60,296.85 321.80,297.90 322.00,298.93 322.20,299.93 322.40,300.87 322.60,301.75 322.80,302.56 323.00,303.30 323.20,303.96 323.40,304.54 323.60,305.05 323.80,305.48 324.00,305.85 324.20,306.16 324.40,306.42 324.60,306.64 324.80,306.81 325.00,306.95 325.20,307.05 325.40,307.14 325.60,307.21" fill="none" stroke="#eab2cb" stroke-width="0.8"/>
<polyline points="322.00,307.26 322.20,307.21 322.40,307.14 322.60,307.06 322.80,306.96 323.00,306.83 323.20,306.67 323.40,306.48 323.60,306.24 323.80,305.97 324.00,305.64 324.20,305.26 324.40,304.83 324.60,304.34 324.80,303.79 325.00,303.18 325.20,302.52 325.40,301.82 325.60,301.07 325.80,300.30 326.00,299.52 326.20,298.73 326.40,297.96 326.60,297.22 326.80,296.54 327.00,295.93 327.20,295.40 327.40,294.97 327.60,294.66 327.80,294.46 328.00,294.40 328.20,294.46 328.40,294.66 328.60,294.97 328.80,295.40 329.00,295.93 329.20,296.54 329.40,297.22 329.60,297.96 329.80,298.73 330.00,299.52 330.20,300.30 330.40,301.07 330.60,301.82 330.80,302.52 331.00,303.18 331.20,303.79 331.40,304.34 331.60,304.83 331.80,305.26 332.00,305.64 332.20,305.97 332.40,306.24 332.60,306.48 332.80,306.67 333.00,306.83 333.20,306.96 333.40,307.06 333.60,307.14 333.80,307.21 334.00,307.26" fill="none" stroke="#b2dab2" stroke-width="0.8"/>
<polyline points="331.20,307.02 331.40,306.90 331.60,306.73 331.80,306.52 332.00,306.25 332.20,305.91 332.40,305.50 332.60,305.00 332.80,304.39 333.00,303.67 333.20,302.83 333.40,301.84 333.60,300.71 333.80,299.43 334.00,298.00 334.20,296.43 334.40,294.71 334.60,292.88 334.80,290.95 335.00,288.94 335.20,286.90 335.40,284.86 335.60,282.86 335.80,280.94 336.00,279.17 336.20,277.57 336.40,276.20 336.60,275.09 336.80,274.27 337.00,273.77 337.20,273.60 337.40,273.77 337.60,274.27 337.80,275.09 338.00,276.20 338.20,277.57 338.40,279.17 338.60,280.94 338.80,282.86 339.00,284.86 339.20,286.90 339.40,288.94 339.60,290.95 339.80,292.88 340.00,294.71 340.20,296.43 340.40,298.00 340.60,299.43 340.80,300.71 341.00,301.84 341.20,302.83 341.40,303.67 341.60,304.39 341.80,305.00 342.00,305.50 342.20,305.91 342.40,306.25 342.60,306.52 342.80,306.73 343.00,306.90 343.20,307.02" fill="none" stroke="#eab2cb" stroke-width="0.8"/>
<polyline points="341.30,307.29 341.50,307.26 341.70,307.21 341.90,307.15 342.10,307.08 342.30,306.98 342.50,306.87 342.70,306.73 342.90,306.56 343.10,306.35 343.30,306.11 343.50,305.84 343.70,305.52 343.90,305.16 344.10,304.76 344.30,304.32 344.50,303.83 344.70,303.32 344.90,302.78 345.10,302.21 345.30,301.64 345.50,301.06 345.70,300.50 345.90,299.96 346.10,299.46 346.30,299.02 346.50,298.63 346.70,298.32 346.90,298.09 347.10,297.95 347.30,297.90 347.50,297.95 347.70,298.09 347.90,298.32 348.10,298.63 348.30,299.02 348.50,299.46 348.70,299.96 348.90,300.50 349.10,301.06 349.30,301.64 349.50,302.21 349.70,302.78 349.90,303.32 350.10,303.83 350.30,304.32 350.50,304.76 350.70,305.16 350.90,305.52 351.10,305.84 351.30,306.11 351.50,306.35 351.70,306.56 351.90,306.73 352.10,306.87 352.30,306.98 352.50,307.08 352.70,307.15 352.90,307.21 353.10,307.26 353.30,307.29" fill="none" stroke="#a4a4cc" stroke-width="0.8"/>
<polyline points="350.80,307.23 351.00,307.17 351.20,307.09 351.40,306.99 351.60,306.87 351.80,306.71 352.00,306.52 352.20,306.29 352.40,306.01 352.60,305.68 352.80,305.29 353.00,304.83 353.20,304.31 353.40,303.72 353.60,303.06 353.80,302.34 354.00,301.55 354.20,300.70 354.40,299.81 354.60,298.88 354.80,297.94 355.00,297.00 355.20,296.07 355.40,295.19 355.60,294.37 355.80,293.63 356.00,293.00 356.20,292.49 356.40,292.11 356.60,291.88 356.80,291.80 357.00,291.88 357.20,292.11 357.40,292.49 357.60,293.00 357.80,293.63 358.00,294.37 358.20,295.19 358.40,296.07 358.60,297.00 358.80,297.94 359.00,298.88 359.20,299.81 359.40,300.70 359.60,301.55 359.80,302.34 360.00,303.06 360.20,303.72 360.40,304.31 360.60,304.83 360.80,305.29 361.00,305.68 361.20,306.01 361.40,306.29 361.60,306.52 361.80,306.71 362.00,306.87 362.20,306.99 362.40,307.09 362.60,307.17 362.80,307.23" fill="none" stroke="#eab2cb" stroke-width="0.8"/>
<polyline points="359.40,307.10 359.60,307.00 359.80,306.87 360.00,306.70 360.20,306.49 360.40,306.22 360.60,305.90 360.80,305.50 361.00,305.02 361.20,304.45 361.40,303.77 361.60,302.99 361.80,302.10 362.00,301.08 362.20,299.95 362.40,298.70 362.60,297.34 362.80,295.89 363.00,294.36 363.20,292.77 363.40,291.14 363.60,289.53 363.80,287.94 364.00,286.42 364.20,285.01 364.40,283.75 364.60,282.66 364.80,281.78 365.00,281.13 365.20,280.73 365.40,280.60 365.60,280.73 365.80,281.13 366.00,281.78 366.20,282.66 366.40,283.75 366.60,285.01 366.80,286.42 367.00,287.94 367.20,289.53 367.40,291.14 367.60,292.77 367.80,294.36 368.00,295.89 368.20,297.34 368.40,298.70 368.60,299.95 368.80,301.08 369.00,302.10 369.20,302.99 369.40,303.77 369.60,304.45 369.80,305.02 370.00,305.50 370.20,305.90 370.40,306.22 370.60,306.49 370.80,306.70 371.00,306.87 371.20,307.00 371.40,307.10" fill="none" stroke="#858585" stroke-width="0.8"/>
<path d="M327.80,287.50 h2 v2.37 h0.8 l-1.8,1.94 l-1.8,-1.94 h0.8 z" fill="#222"/>
<line x1="286.4" y1="358.4" x2="365.5" y2="358.4" stroke="#7a88a0" stroke-width="1.1"/>
<polyline points="284.20,358.18 284.40,358.10 284.60,358.00 284.80,357.87 285.00,357.71 285.20,357.51 285.40,357.27 285.60,356.97 285.80,356.60 286.00,356.17 286.20,355.67 286.40,355.08 286.60,354.40 286.80,353.64 287.00,352.78 287.20,351.84 287.40,350.82 287.60,349.72 287.80,348.57 288.00,347.37 288.20,346.15 288.40,344.93 288.60,343.73 288.80,342.59 289.00,341.53 289.20,340.57 289.40,339.75 289.60,339.09 289.80,338.60 290.00,338.30 290.20,338.20 290.40,338.30 290.60,338.60 290.80,339.09 291.00,339.75 291.20,340.57 291.40,341.53 291.60,342.59 291.80,343.73 292.00,344.93 292.20,346.15 292.40,347.37 292.60,348.57 292.80,349.72 293.00,350.82 293.20,351.84 293.40,352.78 293.60,353.64 293.80,354.40 294.00,355.08 294.20,355.67 294.40,356.17 294.60,356.60 294.80,356.97 295.00,357.27 295.20,357.51 295.40,357.71 295.60,357.87 295.80,358.00 296.00,358.10 296.20,358.18" fill="none" stroke="#eab2cb" stroke-width="0.8"/>
<polyline points="292.80,358.17 293.00,358.09 293.20,357.98 293.40,357.85 293.60,357.68 293.80,357.47 294.00,357.22 294.20,356.90 294.40,356.52 294.60,356.07 294.80,355.54 295.00,354.93 295.20,354.22 295.40,353.43 295.60,352.53 295.80,351.55 296.00,350.48 296.20,349.34 296.40,348.13 296.60,346.88 296.80,345.60 297.00,344.33 297.20,343.08 297.40,341.88 297.60,340.78 297.80,339.78 298.00,338.92 298.20,338.23 298.40,337.72 298.60,337.41 298.80,337.30 299.00,337.41 299.20,337.72 299.40,338.23 299.60,338.92 299.80,339.78 300.00,340.78 300.20,341.88 300.40,343.08 300.60,344.33 300.80,345.60 301.00,346.88 301.20,348.13 301.40,349.34 301.60,350.48 301.80,351.55 302.00,352.53 302.20,353.43 302.40,354.22 302.60,354.93 302.80,355.54 303.00,356.07 303.20,356.52 303.40,356.90 303.60,357.22 303.80,357.47 304.00,357.68 304.20,357.85 304.40,357.98 304.60,358.09 304.80,358.17" fill="none" stroke="#b2dab2" stroke-width="0.8"/>
<polyline points="301.50,358.25 301.70,358.20 301.90,358.13 302.10,358.05 302.30,357.94 302.50,357.81 302.70,357.65 302.90,357.45 303.10,357.21 303.30,356.92 303.50,356.59 303.70,356.20 303.90,355.75 304.10,355.24 304.30,354.67 304.50,354.05 304.70,353.37 304.90,352.64 305.10,351.88 305.30,351.08 305.50,350.27 305.70,349.46 305.90,348.67 306.10,347.91 306.30,347.21 306.50,346.57 306.70,346.03 306.90,345.59 307.10,345.27 307.30,345.07 307.50,345.00 307.70,345.07 307.90,345.27 308.10,345.59 308.30,346.03 308.50,346.57 308.70,347.21 308.90,347.91 309.10,348.67 309.30,349.46 309.50,350.27 309.70,351.08 309.90,351.88 310.10,352.64 310.30,353.37 310.50,354.05 310.70,354.67 310.90,355.24 311.10,355.75 311.30,356.20 311.50,356.59 311.70,356.92 311.90,357.21 312.10,357.45 312.30,357.65 312.50,357.81 312.70,357.94 312.90,358.05 313.10,358.13 313.30,358.20 313.50,358.25" fill="none" stroke="#eab2cb" stroke-width="0.8"/>
<polyline points="308.80,358.13 309.00,358.04 309.20,357.92 309.40,357.77 309.60,357.58 309.80,357.34 310.00,357.04 310.20,356.68 310.40,356.25 310.60,355.73 310.80,355.12 311.00,354.42 311.20,353.61 311.40,352.69 311.60,351.67 311.80,350.54 312.00,349.32 312.20,348.00 312.40,346.62 312.60,345.18 312.80,343.72 313.00,342.26 313.20,340.83 313.40,339.46 313.60,338.19 313.80,337.04 314.00,336.06 314.20,335.26 314.40,334.68 314.60,334.32 314.80,334.20 315.00,334.32 315.20,334.68 315.40,335.26 315.60,336.06 315.80,337.04 316.00,338.19 316.20,339.46 316.40,340.83 316.60,342.26 316.80,343.72 317.00,345.18 317.20,346.62 317.40,348.00 317.60,349.32 317.80,350.54 318.00,351.67 318.20,352.69 318.40,353.61 318.60,354.42 318.80,355.12 319.00,355.73 319.20,356.25 319.40,356.68 319.60,357.04 319.80,357.34 320.00,357.58 320.20,357.77 320.40,357.92 320.60,358.04 320.80,358.13" fill="none" stroke="#858585" stroke-width="0.8"/>
<polyline points="316.20,358.23 316.40,358.18 316.60,358.10 316.80,358.01 317.00,357.89 317.20,357.74 317.40,357.56 317.60,357.33 317.80,357.07 318.00,356.75 318.20,356.37 318.40,355.93 318.60,355.43 318.80,354.86 319.00,354.23 319.20,353.53 319.40,352.77 319.60,351.96 319.80,351.10 320.00,350.21 320.20,349.30 320.40,348.40 320.60,347.51 320.80,346.66 321.00,345.87 321.20,345.16 321.40,344.55 321.60,344.06 321.80,343.70 322.00,343.47 322.20,343.40 322.40,343.47 322.60,343.70 322.80,344.06 323.00,344.55 323.20,345.16 323.40,345.87 323.60,346.66 323.80,347.51 324.00,348.40 324.20,349.30 324.40,350.21 324.60,351.10 324.80,351.96 325.00,352.77 325.20,353.53 325.40,354.23 325.60,354.86 325.80,355.43 326.00,355.93 326.20,356.37 326.40,356.75 326.60,357.07 326.80,357.33 327.00,357.56 327.20,357.74 327.40,357.89 327.60,358.01 327.80,358.10 328.00,358.18 328.20,358.23" fill="none" stroke="#eab2cb" stroke-width="0.8"/>
<polyline points="324.30,358.18 324.50,358.10 324.70,358.00 324.90,357.87 325.10,357.71 325.30,357.51 325.50,357.27 325.70,356.97 325.90,356.60 326.10,356.17 326.30,355.67 326.50,355.08 326.70,354.40 326.90,353.64 327.10,352.78 327.30,351.84 327.50,350.82 327.70,349.72 327.90,348.57 328.10,347.37 328.30,346.15 328.50,344.93 328.70,343.73 328.90,342.59 329.10,341.53 329.30,340.57 329.50,339.75 329.70,339.09 329.90,338.60 330.10,338.30 330.30,338.20 330.50,338.30 330.70,338.60 330.90,339.09 331.10,339.75 331.30,340.57 331.50,341.53 331.70,342.59 331.90,343.73 332.10,344.93 332.30,346.15 332.50,347.37 332.70,348.57 332.90,349.72 333.10,350.82 333.30,351.84 333.50,352.78 333.70,353.64 333.90,354.40 334.10,355.08 334.30,355.67 334.50,356.17 334.70,356.60 334.90,356.97 335.10,357.27 335.30,357.51 335.50,357.71 335.70,357.87 335.90,358.00 336.10,358.10 336.30,358.18" fill="none" stroke="#858585" stroke-width="0.8"/>
<polyline points="332.30,358.05 332.50,357.93 332.70,357.78 332.90,357.58 333.10,357.33 333.30,357.02 333.50,356.64 333.70,356.17 333.90,355.61 334.10,354.94 334.30,354.15 334.50,353.24 334.70,352.19 334.90,351.00 335.10,349.67 335.30,348.21 335.50,346.62 335.70,344.91 335.90,343.12 336.10,341.25 336.30,339.35 336.50,337.46 336.70,335.60 336.90,333.82 337.10,332.17 337.30,330.69 337.50,329.41 337.70,328.38 337.90,327.62 338.10,327.16 338.30,327.00 338.50,327.16 338.70,327.62 338.90,328.38 339.10,329.41 339.30,330.69 339.50,332.17 339.70,333.82 339.90,335.60 340.10,337.46 340.30,339.35 340.50,341.25 340.70,343.12 340.90,344.91 341.10,346.62 341.30,348.21 341.50,349.67 341.70,351.00 341.90,352.19 342.10,353.24 342.30,354.15 342.50,354.94 342.70,355.61 342.90,356.17 343.10,356.64 343.30,357.02 343.50,357.33 343.70,357.58 343.90,357.78 344.10,357.93 344.30,358.05" fill="none" stroke="#eab2cb" stroke-width="0.8"/>
<polyline points="341.30,358.29 341.50,358.25 341.70,358.20 341.90,358.14 342.10,358.06 342.30,357.97 342.50,357.84 342.70,357.70 342.90,357.52 343.10,357.31 343.30,357.06 343.50,356.77 343.70,356.44 343.90,356.07 344.10,355.65 344.30,355.19 344.50,354.68 344.70,354.15 344.90,353.58 345.10,352.99 345.30,352.40 345.50,351.80 345.70,351.21 345.90,350.65 346.10,350.13 346.30,349.66 346.50,349.26 346.70,348.94 346.90,348.70 347.10,348.55 347.30,348.50 347.50,348.55 347.70,348.70 347.90,348.94 348.10,349.26 348.30,349.66 348.50,350.13 348.70,350.65 348.90,351.21 349.10,351.80 349.30,352.40 349.50,352.99 349.70,353.58 349.90,354.15 350.10,354.68 350.30,355.19 350.50,355.65 350.70,356.07 350.90,356.44 351.10,356.77 351.30,357.06 351.50,357.31 351.70,357.52 351.90,357.70 352.10,357.84 352.30,357.97 352.50,358.06 352.70,358.14 352.90,358.20 353.10,358.25 353.30,358.29" fill="none" stroke="#eab2cb" stroke-width="0.8"/>
<polyline points="350.00,358.24 350.20,358.19 350.40,358.12 350.60,358.03 350.80,357.92 351.00,357.78 351.20,357.60 351.40,357.39 351.60,357.14 351.80,356.83 352.00,356.48 352.20,356.06 352.40,355.59 352.60,355.05 352.80,354.45 353.00,353.79 353.20,353.07 353.40,352.30 353.60,351.49 353.80,350.65 354.00,349.79 354.20,348.93 354.40,348.09 354.60,347.29 354.80,346.54 355.00,345.87 355.20,345.29 355.40,344.82 355.60,344.48 355.80,344.27 356.00,344.20 356.20,344.27 356.40,344.48 356.60,344.82 356.80,345.29 357.00,345.87 357.20,346.54 357.40,347.29 357.60,348.09 357.80,348.93 358.00,349.79 358.20,350.65 358.40,351.49 358.60,352.30 358.80,353.07 359.00,353.79 359.20,354.45 359.40,355.05 359.60,355.59 359.80,356.06 360.00,356.48 360.20,356.83 360.40,357.14 360.60,357.39 360.80,357.60 361.00,357.78 361.20,357.92 361.40,358.03 361.60,358.12 361.80,358.19 362.00,358.24" fill="none" stroke="#eab2cb" stroke-width="0.8"/>
<polyline points="357.70,358.13 357.90,358.03 358.10,357.91 358.30,357.76 358.50,357.56 358.70,357.32 358.90,357.02 359.10,356.65 359.30,356.21 359.50,355.69 359.70,355.07 359.90,354.35 360.10,353.53 360.30,352.60 360.50,351.56 360.70,350.41 360.90,349.17 361.10,347.83 361.30,346.43 361.50,344.97 361.70,343.48 361.90,341.99 362.10,340.54 362.30,339.15 362.50,337.85 362.70,336.69 362.90,335.69 363.10,334.88 363.30,334.29 363.50,333.92 363.70,333.80 363.90,333.92 364.10,334.29 364.30,334.88 364.50,335.69 364.70,336.69 364.90,337.85 365.10,339.15 365.30,340.54 365.50,341.99 365.70,343.48 365.90,344.97 366.10,346.43 366.30,347.83 366.50,349.17 366.70,350.41 366.90,351.56 367.10,352.60 367.30,353.53 367.50,354.35 367.70,355.07 367.90,355.69 368.10,356.21 368.30,356.65 368.50,357.02 368.70,357.32 368.90,357.56 369.10,357.76 369.30,357.91 369.50,358.03 369.70,358.13" fill="none" stroke="#858585" stroke-width="0.8"/>
<path d="M329.30,331.20 h2 v2.86 h0.8 l-1.8,2.34 l-1.8,-2.34 h0.8 z" fill="#222"/>
<line x1="288" y1="404.4" x2="366.3" y2="404.4" stroke="#7a88a0" stroke-width="1.1"/>
<polyline points="286.00,404.14 286.20,404.05 286.40,403.94 286.60,403.79 286.80,403.60 287.00,403.37 287.20,403.09 287.40,402.74 287.60,402.32 287.80,401.82 288.00,401.23 288.20,400.55 288.40,399.77 288.60,398.88 288.80,397.89 289.00,396.80 289.20,395.62 289.40,394.35 289.60,393.01 289.80,391.62 290.00,390.21 290.20,388.79 290.40,387.41 290.60,386.08 290.80,384.85 291.00,383.75 291.20,382.80 291.40,382.03 291.60,381.46 291.80,381.12 292.00,381.00 292.20,381.12 292.40,381.46 292.60,382.03 292.80,382.80 293.00,383.75 293.20,384.85 293.40,386.08 293.60,387.41 293.80,388.79 294.00,390.21 294.20,391.62 294.40,393.01 294.60,394.35 294.80,395.62 295.00,396.80 295.20,397.89 295.40,398.88 295.60,399.77 295.80,400.55 296.00,401.23 296.20,401.82 296.40,402.32 296.60,402.74 296.80,403.09 297.00,403.37 297.20,403.60 297.40,403.79 297.60,403.94 297.80,404.05 298.00,404.14" fill="none" stroke="#b2dab2" stroke-width="0.8"/>
<polyline points="295.40,404.24 295.60,404.18 295.80,404.11 296.00,404.02 296.20,403.90 296.40,403.75 296.60,403.57 296.80,403.36 297.00,403.09 297.20,402.78 297.40,402.41 297.60,401.98 297.80,401.49 298.00,400.93 298.20,400.31 298.40,399.63 298.60,398.88 298.80,398.09 299.00,397.24 299.20,396.37 299.40,395.48 299.60,394.60 299.80,393.73 300.00,392.89 300.20,392.12 300.40,391.43 300.60,390.83 300.80,390.35 301.00,389.99 301.20,389.77 301.40,389.70 301.60,389.77 301.80,389.99 302.00,390.35 302.20,390.83 302.40,391.43 302.60,392.12 302.80,392.89 303.00,393.73 303.20,394.60 303.40,395.48 303.60,396.37 303.80,397.24 304.00,398.09 304.20,398.88 304.40,399.63 304.60,400.31 304.80,400.93 305.00,401.49 305.20,401.98 305.40,402.41 305.60,402.78 305.80,403.09 306.00,403.36 306.20,403.57 306.40,403.75 306.60,403.90 306.80,404.02 307.00,404.11 307.20,404.18 307.40,404.24" fill="none" stroke="#eab2cb" stroke-width="0.8"/>
<polyline points="303.60,404.11 303.80,404.01 304.00,403.88 304.20,403.72 304.40,403.51 304.60,403.26 304.80,402.94 305.00,402.55 305.20,402.09 305.40,401.53 305.60,400.88 305.80,400.12 306.00,399.25 306.20,398.27 306.40,397.17 306.60,395.96 306.80,394.64 307.00,393.23 307.20,391.74 307.40,390.20 307.60,388.63 307.80,387.06 308.00,385.52 308.20,384.05 308.40,382.68 308.60,381.46 308.80,380.40 309.00,379.54 309.20,378.91 309.40,378.53 309.60,378.40 309.80,378.53 310.00,378.91 310.20,379.54 310.40,380.40 310.60,381.46 310.80,382.68 311.00,384.05 311.20,385.52 311.40,387.06 311.60,388.63 311.80,390.20 312.00,391.74 312.20,393.23 312.40,394.64 312.60,395.96 312.80,397.17 313.00,398.27 313.20,399.25 313.40,400.12 313.60,400.88 313.80,401.53 314.00,402.09 314.20,402.55 314.40,402.94 314.60,403.26 314.80,403.51 315.00,403.72 315.20,403.88 315.40,404.01 315.60,404.11" fill="none" stroke="#858585" stroke-width="0.8"/>
<polyline points="311.90,404.23 312.10,404.17 312.30,404.09 312.50,403.99 312.70,403.87 312.90,403.71 313.10,403.52 313.30,403.29 313.50,403.01 313.70,402.68 313.90,402.29 314.10,401.83 314.30,401.31 314.50,400.72 314.70,400.06 314.90,399.34 315.10,398.55 315.30,397.70 315.50,396.81 315.70,395.88 315.90,394.94 316.10,394.00 316.30,393.07 316.50,392.19 316.70,391.37 316.90,390.63 317.10,390.00 317.30,389.49 317.50,389.11 317.70,388.88 317.90,388.80 318.10,388.88 318.30,389.11 318.50,389.49 318.70,390.00 318.90,390.63 319.10,391.37 319.30,392.19 319.50,393.07 319.70,394.00 319.90,394.94 320.10,395.88 320.30,396.81 320.50,397.70 320.70,398.55 320.90,399.34 321.10,400.06 321.30,400.72 321.50,401.31 321.70,401.83 321.90,402.29 322.10,402.68 322.30,403.01 322.50,403.29 322.70,403.52 322.90,403.71 323.10,403.87 323.30,403.99 323.50,404.09 323.70,404.17 323.90,404.23" fill="none" stroke="#eab2cb" stroke-width="0.8"/>
<polyline points="319.70,404.18 319.90,404.10 320.10,404.01 320.30,403.88 320.50,403.72 320.70,403.53 320.90,403.28 321.10,402.99 321.30,402.63 321.50,402.21 321.70,401.71 321.90,401.13 322.10,400.46 322.30,399.71 322.50,398.87 322.70,397.94 322.90,396.93 323.10,395.85 323.30,394.71 323.50,393.53 323.70,392.33 323.90,391.13 324.10,389.95 324.30,388.82 324.50,387.78 324.70,386.84 324.90,386.03 325.10,385.38 325.30,384.89 325.50,384.60 325.70,384.50 325.90,384.60 326.10,384.89 326.30,385.38 326.50,386.03 326.70,386.84 326.90,387.78 327.10,388.82 327.30,389.95 327.50,391.13 327.70,392.33 327.90,393.53 328.10,394.71 328.30,395.85 328.50,396.93 328.70,397.94 328.90,398.87 329.10,399.71 329.30,400.46 329.50,401.13 329.70,401.71 329.90,402.21 330.10,402.63 330.30,402.99 330.50,403.28 330.70,403.53 330.90,403.72 331.10,403.88 331.30,404.01 331.50,404.10 331.70,404.18" fill="none" stroke="#70b0a0" stroke-width="0.8"/>
<polyline points="329.20,404.04 329.40,403.92 329.60,403.77 329.80,403.56 330.00,403.31 330.20,402.99 330.40,402.60 330.60,402.13 330.80,401.55 331.00,400.87 331.20,400.07 331.40,399.14 331.60,398.07 331.80,396.86 332.00,395.50 332.20,394.01 332.40,392.39 332.60,390.65 332.80,388.82 333.00,386.93 333.20,384.99 333.40,383.06 333.60,381.16 333.80,379.35 334.00,377.67 334.20,376.16 334.40,374.86 334.60,373.81 334.80,373.03 335.00,372.56 335.20,372.40 335.40,372.56 335.60,373.03 335.80,373.81 336.00,374.86 336.20,376.16 336.40,377.67 336.60,379.35 336.80,381.16 337.00,383.06 337.20,384.99 337.40,386.93 337.60,388.82 337.80,390.65 338.00,392.39 338.20,394.01 338.40,395.50 338.60,396.86 338.80,398.07 339.00,399.14 339.20,400.07 339.40,400.87 339.60,401.55 339.80,402.13 340.00,402.60 340.20,402.99 340.40,403.31 340.60,403.56 340.80,403.77 341.00,403.92 341.20,404.04" fill="none" stroke="#eab2cb" stroke-width="0.8"/>
<polyline points="338.70,404.27 338.90,404.23 339.10,404.17 339.30,404.10 339.50,404.01 339.70,403.90 339.90,403.76 340.10,403.59 340.30,403.39 340.50,403.14 340.70,402.86 340.90,402.52 341.10,402.14 341.30,401.71 341.50,401.23 341.70,400.70 341.90,400.12 342.10,399.50 342.30,398.85 342.50,398.17 342.70,397.49 342.90,396.80 343.10,396.12 343.30,395.48 343.50,394.88 343.70,394.34 343.90,393.88 344.10,393.50 344.30,393.23 344.50,393.06 344.70,393.00 344.90,393.06 345.10,393.23 345.30,393.50 345.50,393.88 345.70,394.34 345.90,394.88 346.10,395.48 346.30,396.12 346.50,396.80 346.70,397.49 346.90,398.17 347.10,398.85 347.30,399.50 347.50,400.12 347.70,400.70 347.90,401.23 348.10,401.71 348.30,402.14 348.50,402.52 348.70,402.86 348.90,403.14 349.10,403.39 349.30,403.59 349.50,403.76 349.70,403.90 349.90,404.01 350.10,404.10 350.30,404.17 350.50,404.23 350.70,404.27" fill="none" stroke="#eab2cb" stroke-width="0.8"/>
<polyline points="348.20,404.23 348.40,404.17 348.60,404.09 348.80,403.99 349.00,403.87 349.20,403.71 349.40,403.52 349.60,403.29 349.80,403.01 350.00,402.68 350.20,402.29 350.40,401.83 350.60,401.31 350.80,400.72 351.00,400.06 351.20,399.34 351.40,398.55 351.60,397.70 351.80,396.81 352.00,395.88 352.20,394.94 352.40,394.00 352.60,393.07 352.80,392.19 353.00,391.37 353.20,390.63 353.40,390.00 353.60,389.49 353.80,389.11 354.00,388.88 354.20,388.80 354.40,388.88 354.60,389.11 354.80,389.49 355.00,390.00 355.20,390.63 355.40,391.37 355.60,392.19 355.80,393.07 356.00,394.00 356.20,394.94 356.40,395.88 356.60,396.81 356.80,397.70 357.00,398.55 357.20,399.34 357.40,400.06 357.60,400.72 357.80,401.31 358.00,401.83 358.20,402.29 358.40,402.68 358.60,403.01 358.80,403.29 359.00,403.52 359.20,403.71 359.40,403.87 359.60,403.99 359.80,404.09 360.00,404.17 360.20,404.23" fill="none" stroke="#eab2cb" stroke-width="0.8"/>
<polyline points="356.00,404.12 356.20,404.03 356.40,403.90 356.60,403.74 356.80,403.55 357.00,403.30 357.20,402.99 357.40,402.62 357.60,402.17 357.80,401.63 358.00,401.00 358.20,400.27 358.40,399.43 358.60,398.48 358.80,397.42 359.00,396.25 359.20,394.98 359.40,393.62 359.60,392.18 359.80,390.69 360.00,389.18 360.20,387.66 360.40,386.17 360.60,384.75 360.80,383.43 361.00,382.25 361.20,381.23 361.40,380.40 361.60,379.80 361.80,379.43 362.00,379.30 362.20,379.43 362.40,379.80 362.60,380.40 362.80,381.23 363.00,382.25 363.20,383.43 363.40,384.75 363.60,386.17 363.80,387.66 364.00,389.18 364.20,390.69 364.40,392.18 364.60,393.62 364.80,394.98 365.00,396.25 365.20,397.42 365.40,398.48 365.60,399.43 365.80,400.27 366.00,401.00 366.20,401.63 366.40,402.17 366.60,402.62 366.80,402.99 367.00,403.30 367.20,403.55 367.40,403.74 367.60,403.90 367.80,404.03 368.00,404.12" fill="none" stroke="#858585" stroke-width="0.8"/>
<path d="M325.00,379.30 h2 v2.37 h0.8 l-1.8,1.94 l-1.8,-1.94 h0.8 z" fill="#222"/>
</svg>
</body></html>
